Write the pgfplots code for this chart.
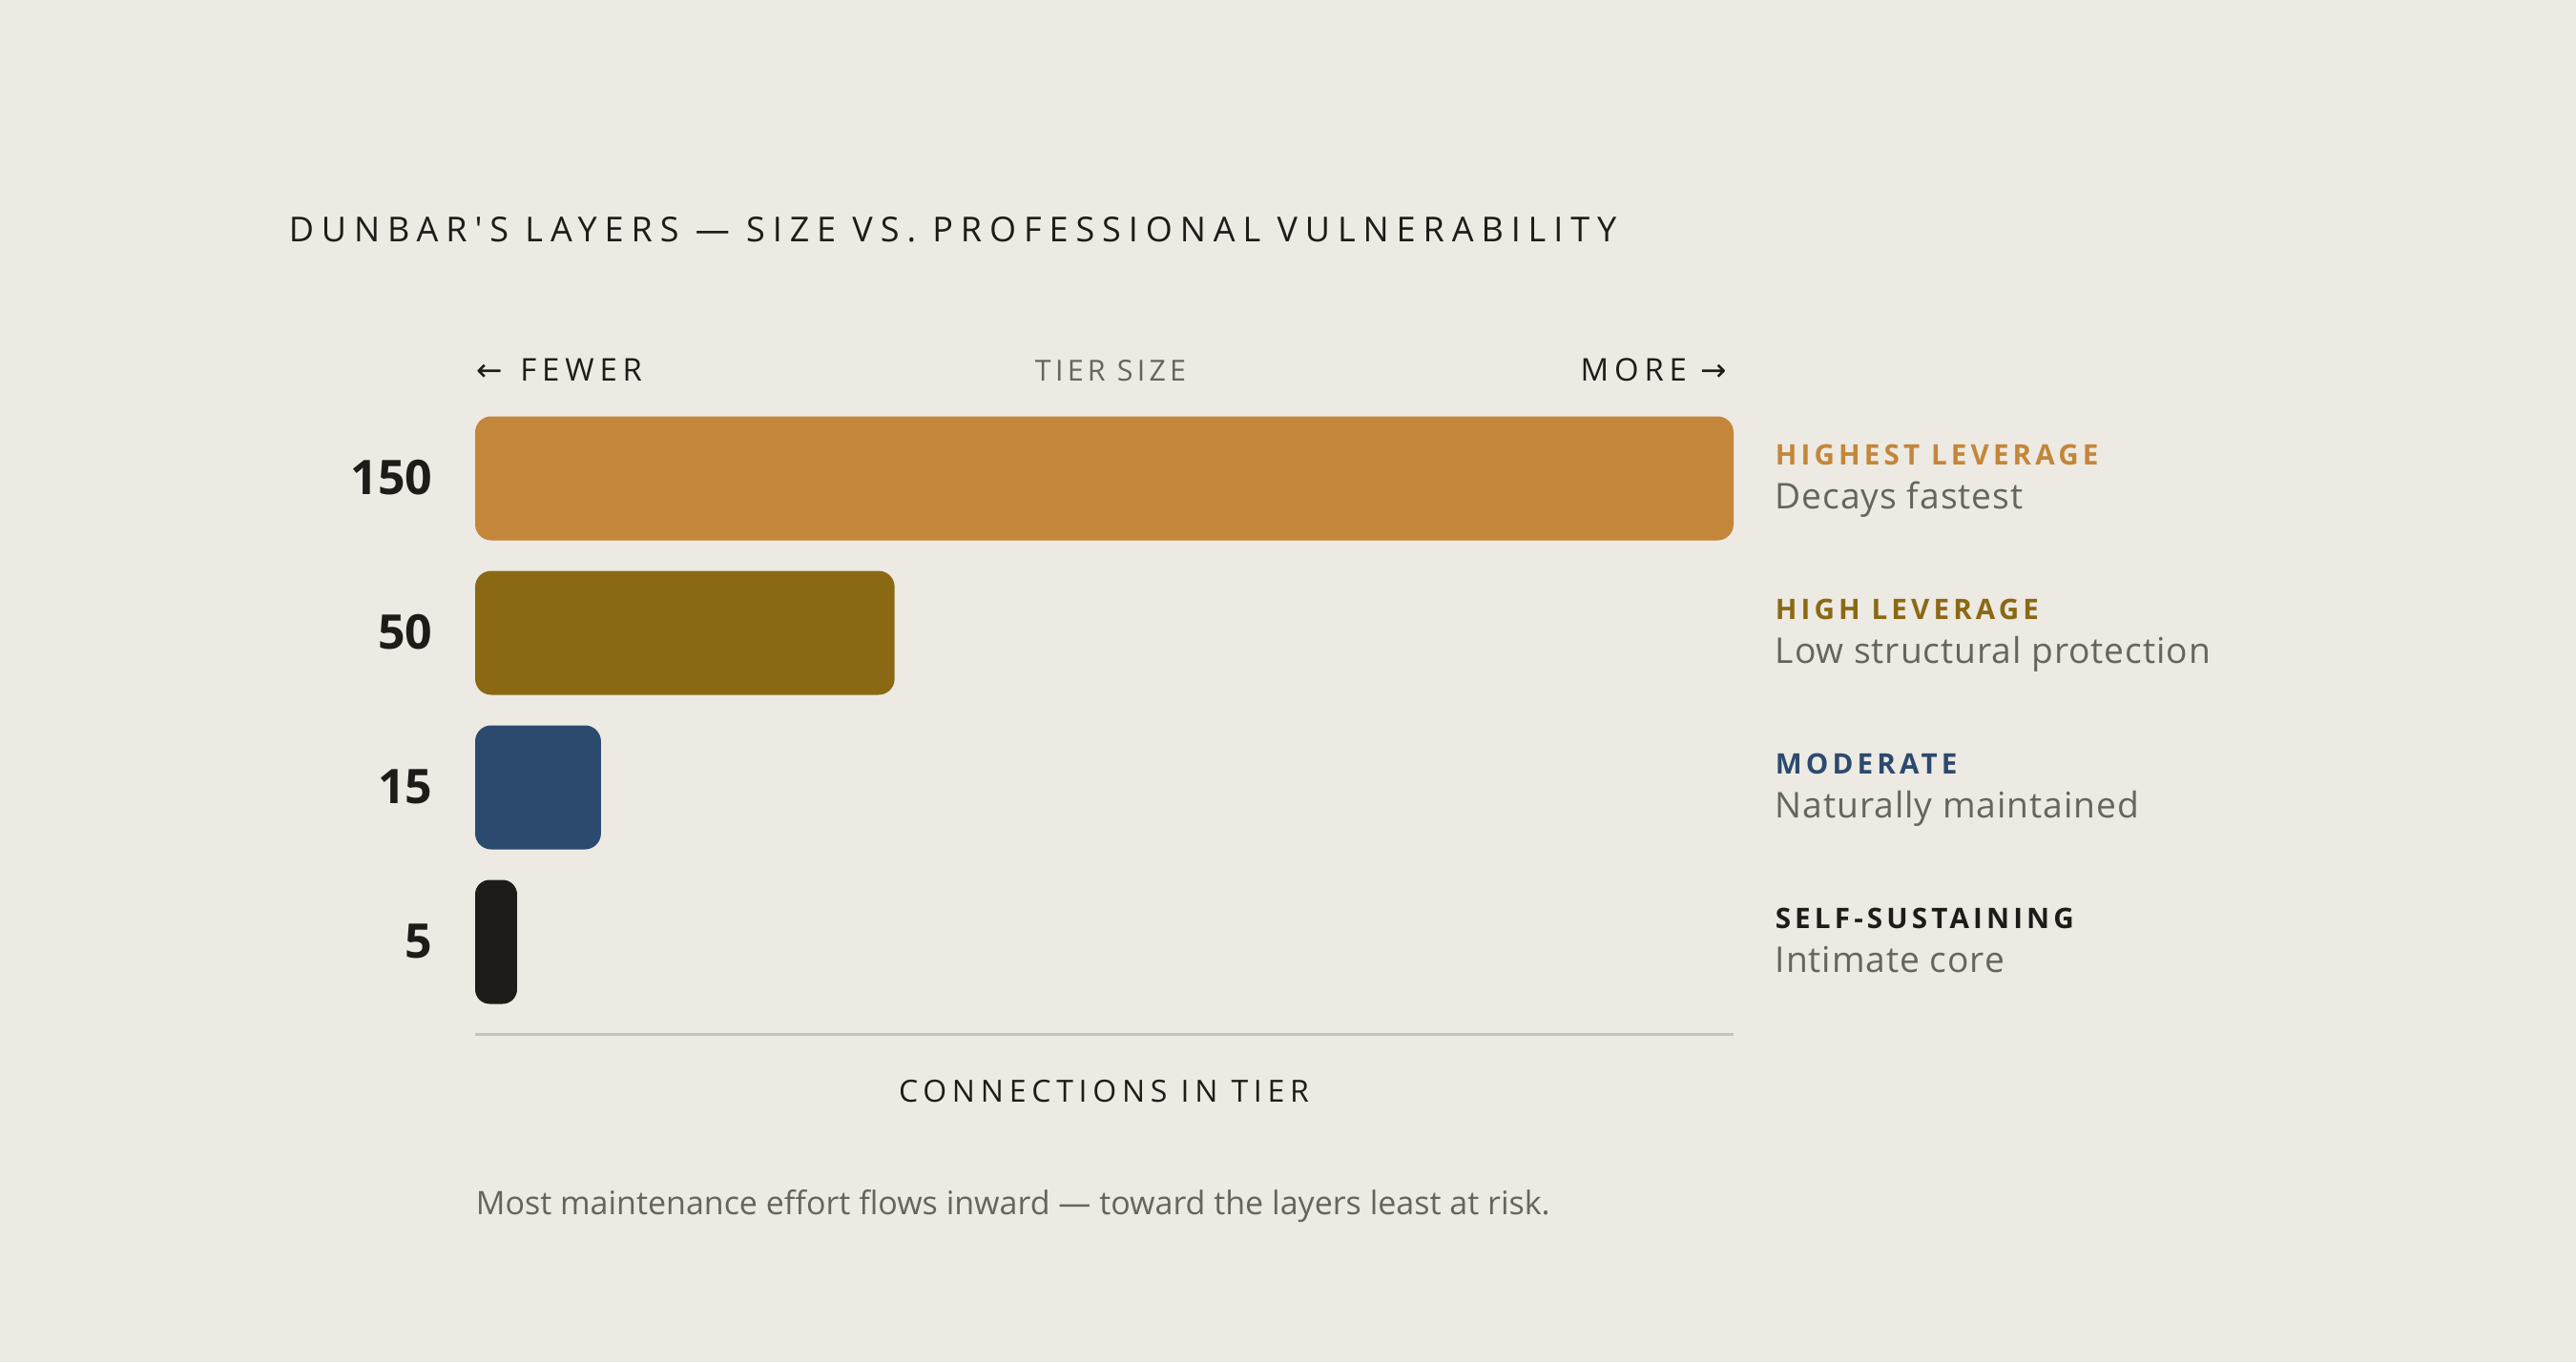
\documentclass[border=0pt]{standalone}
\usepackage{pgfplots}
\pgfplotsset{compat=1.18}
\usepackage{fontspec}
\setmainfont{Open Sans}
\newfontfamily\titlefont[LetterSpace=22]{Open Sans}
\newfontfamily\capsfont[LetterSpace=18]{Open Sans}
\newfontfamily\tierfont[LetterSpace=14]{Open Sans}
\newfontfamily\catfont[LetterSpace=14]{Open Sans}
\newfontfamily\descfont[LetterSpace=2.5]{Open Sans}
\newfontfamily\arrowfont{DejaVu Sans}
\definecolor{bg}{HTML}{EDEAE3}
\definecolor{cA}{HTML}{C4863A}
\definecolor{cB}{HTML}{8B6914}
\definecolor{cC}{HTML}{2C4A6E}
\definecolor{cD}{HTML}{1E1C18}
\definecolor{ink}{HTML}{1E1C18}
\definecolor{muted}{HTML}{67645F}
\definecolor{rule}{HTML}{C6C2BA}
\begin{document}
\begin{tikzpicture}
\useasboundingbox (0,0) rectangle (675pt,357pt);
\fill[bg] (0,0) rectangle (675pt,357pt);
\node[anchor=base west, inner sep=0, text=ink] at (75.5pt,293.75pt) {\titlefont\fontsize{9}{11}\selectfont DUNBAR'S LAYERS — SIZE VS. PROFESSIONAL VULNERABILITY};
\node[anchor=base west, inner sep=0, text=ink] at (124.75pt,257.25pt) {\fontsize{8.2}{10}\selectfont{\arrowfont ←}\hspace{0.55em}\capsfont FEWER};
\node[anchor=base, inner sep=0, text=muted] at (291pt,257.25pt) {\tierfont\fontsize{7.6}{10}\selectfont TIER SIZE};
\node[anchor=base east, inner sep=0, text=ink] at (452.75pt,257.25pt) {\fontsize{8.2}{10}\selectfont{\capsfont MORE}\hspace{0.45em}{\arrowfont →}};
\begin{axis}[
  at={(124.5pt,89.875pt)}, anchor=south west,
  scale only axis, width=329.75pt, height=162pt,
  xmin=0, xmax=150, ymin=-0.5, ymax=3.5,
  axis lines=none, clip=false,
]
\addplot[xbar, bar width=32.5pt, bar shift=0pt, fill=cA, draw=none, rounded corners=4.2pt] coordinates {(150,3)};
\addplot[xbar, bar width=32.5pt, bar shift=0pt, fill=cB, draw=none, rounded corners=4.2pt] coordinates {(50,2)};
\addplot[xbar, bar width=32.5pt, bar shift=0pt, fill=cC, draw=none, rounded corners=4.2pt] coordinates {(15,1)};
\addplot[xbar, bar width=32.5pt, bar shift=0pt, fill=cD, draw=none, rounded corners=3.8pt] coordinates {(5,0)};
\draw[rule, line width=0.7pt] (axis cs:0,-0.6) -- (axis cs:150,-0.6);
\end{axis}
% value labels
\foreach \v/\y in {150/227.5, 50/187, 15/146.5, 5/106}{
  \node[anchor=base east, inner sep=0, text=ink] at (113.5pt,\y pt) {\fontsize{12.5}{14}\selectfont\bfseries \v};
}
% category labels
\node[anchor=base west, inner sep=0, text=cA] at (465pt,235.25pt) {\catfont\bfseries\fontsize{7.4}{9}\selectfont HIGHEST LEVERAGE};
\node[anchor=base west, inner sep=0, text=muted] at (465pt,223.6pt) {\descfont\fontsize{9.3}{11}\selectfont Decays fastest};
\node[anchor=base west, inner sep=0, text=cB] at (465pt,194.75pt) {\catfont\bfseries\fontsize{7.4}{9}\selectfont HIGH LEVERAGE};
\node[anchor=base west, inner sep=0, text=muted] at (465pt,183.1pt) {\descfont\fontsize{9.3}{11}\selectfont Low structural protection};
\node[anchor=base west, inner sep=0, text=cC] at (465pt,154.25pt) {\catfont\bfseries\fontsize{7.4}{9}\selectfont MODERATE};
\node[anchor=base west, inner sep=0, text=muted] at (465pt,142.6pt) {\descfont\fontsize{9.3}{11}\selectfont Naturally maintained};
\node[anchor=base west, inner sep=0, text=cD] at (465pt,113.75pt) {\catfont\bfseries\fontsize{7.4}{9}\selectfont SELF-SUSTAINING};
\node[anchor=base west, inner sep=0, text=muted] at (465pt,102.1pt) {\descfont\fontsize{9.3}{11}\selectfont Intimate core};
% bottom texts
\node[anchor=base, inner sep=0, text=ink] at (289.25pt,68.25pt) {\capsfont\fontsize{8}{10}\selectfont CONNECTIONS IN TIER};
\node[anchor=base west, inner sep=0, text=muted] at (124.5pt,38.75pt) {\fontsize{8.5}{10}\selectfont Most maintenance effort flows inward — toward the layers least at risk.};
\end{tikzpicture}
\end{document}
